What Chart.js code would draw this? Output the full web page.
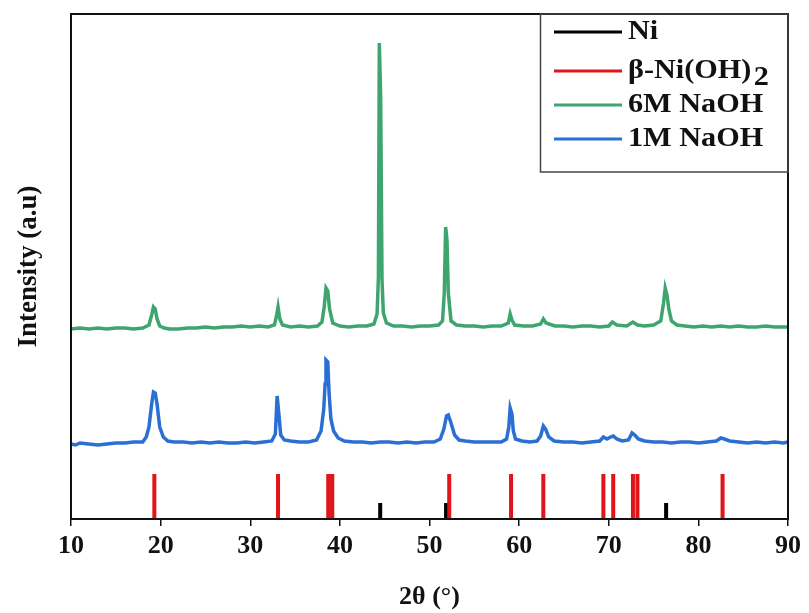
<!DOCTYPE html>
<html>
<head>
<meta charset="utf-8">
<script src="https://cdn.jsdelivr.net/npm/chart.js@4.4.1/dist/chart.umd.min.js"></script>
<style>
  html, body { margin: 0; padding: 0; background: #fff; }
  #wrap { width: 809px; height: 613px; position: relative; }
</style>
</head>
<body>
<div id="wrap"><canvas id="xrd"></canvas></div>
<script>
// reference lines (2theta positions) and their drawn heights
var niPeaks = [44.5, 51.85, 76.4];
var niHeight = 16;
var nioh2Peaks = [19.3, 33.1, 38.7, 39.15, 52.2, 59.1, 62.7, 69.4, 70.5, 72.7, 73.2, 82.7];
var nioh2Height = 45;

// measured patterns, [2theta, intensity] (offset for stacking)
var pattern6M = [
  [10,190],[11,191],[12,190],[13,191],[14,190],[15,191],[16,191],[17,190],[18,191],
  [18.7,194],[19.0,204],[19.2,212],[19.4,210],[19.6,200],[19.9,193],[20.4,191],
  [21,190],[22,190],[23,191],[24,191],[25,192],[26,191],[27,192],[28,192],[29,193],
  [30,192],[31,193],[32,192],[32.7,194],[32.95,204],[33.1,212],[33.3,200],[33.6,194],
  [34.5,192],[35.5,193],[36.5,192],[37.5,193],[38.0,197],[38.25,212],[38.45,231],
  [38.65,228],[38.85,210],[39.2,196],[40,193],[41,192],[42,193],[43,193],[43.8,195],
  [44.15,205],[44.3,242],[44.4,476],[44.55,422],[44.7,240],[44.85,206],[45.2,196],
  [46,193],[47,193],[48,192],[49,193],[50,193],[51,194],[51.45,198],[51.65,226],
  [51.8,292],[51.95,279],[52.1,226],[52.4,198],[53,194],[54,193],[55,193],[56,192],
  [57,193],[58,193],[58.8,196],[59.0,205],[59.2,199],[59.5,194],[60.5,193],[61.5,193],
  [62.4,195],[62.7,200],[63.0,196],[64,193],[65,193],[66,192],[67,193],[68,193],
  [69,192],[70,193],[70.4,197],[70.9,194],[72,193],[72.7,197],[73.2,194],[74,193],
  [75,194],[75.8,198],[76.1,215],[76.3,231],[76.5,224],[76.7,210],[77.0,198],[77.6,194],
  [78.5,193],[79.5,192],[80.5,193],[81.5,192],[82.5,193],[83.5,192],[84.5,193],
  [85.5,192],[86.5,192],[87.5,193],[88.5,192],[89.5,192],[90,192]
];
var pattern1M = [
  [10,75],[10.5,74],[11,76],[12,75],[13,74],[14,75],[15,76],[16,76],[17,77],[18,77],
  [18.4,82],[18.7,92],[19.0,115],[19.2,127],[19.4,126],[19.6,115],[19.9,92],[20.3,82],
  [20.8,78],[21.5,77],[22.5,77],[23.5,76],[24.5,77],[25.5,76],[26.5,77],[27.5,76],
  [28.5,76],[29.5,77],[30.5,76],[31.5,77],[32.4,78],[32.8,85],[33.0,123],[33.2,104],
  [33.4,84],[33.8,79],[34.5,78],[35.5,77],[36.5,77],[37.4,79],[37.9,88],[38.2,110],
  [38.35,135],[38.45,159],[38.65,157],[38.8,125],[39.0,100],[39.3,88],[39.8,81],
  [40.5,78],[41.5,77],[42.5,77],[43.5,76],[44.5,77],[45.5,77],[46.5,76],[47.5,77],
  [48.5,76],[49.5,77],[50.5,77],[51.2,80],[51.6,90],[51.9,103],[52.1,104],[52.4,96],
  [52.8,84],[53.3,79],[54,78],[55,77],[56,77],[57,77],[58,77],[58.6,80],[58.85,92],
  [59.0,111],[59.2,105],[59.35,88],[59.6,80],[60.3,78],[61.2,77],[62.0,78],[62.4,83],
  [62.7,93],[62.95,90],[63.3,82],[63.9,78],[65,77],[66,77],[67,76],[68,77],[69,78],
  [69.4,82],[69.8,80],[70.2,82],[70.5,83],[70.9,80],[71.5,78],[72.2,79],[72.6,86],
  [72.9,84],[73.3,80],[74,78],[75,77],[76,77],[77,76],[78,77],[79,77],[80,76],[81,77],
  [82.0,78],[82.5,81],[82.9,80],[83.5,78],[84.5,77],[85.5,76],[86.5,77],[87.5,76],
  [88.5,77],[89.5,76],[90,77]
];
var xTicks = [10, 20, 30, 40, 50, 60, 70, 80, 90];

var serif = '"Liberation Serif", "Times New Roman", serif';

function toPoints(pairs) {
  return pairs.map(function(p) { return {x: p[0], y: p[1]}; });
}

// each stick goes 0 -> height, then a null breaks the line
function sticks(positions, h) {
  var out = [];
  positions.forEach(function(p) {
    out.push({x: p, y: 0}, {x: p, y: h}, {x: p, y: null});
  });
  return out;
}

var series = [
  {label: 'Ni', color: '#000000'},
  {label: 'β-Ni(OH)', sub: '2', color: '#e0141b'},
  {label: '6M NaOH', color: '#3fa56e'},
  {label: '1M NaOH', color: '#2a6fd4'}
];

// frame around the plot plus the boxed legend in the upper right
var framePlugin = {
  id: 'frame',
  afterDraw: function(chart) {
    var a = chart.chartArea, ctx = chart.ctx;
    ctx.save();
    ctx.strokeStyle = '#111';
    ctx.lineWidth = 2;
    ctx.strokeRect(a.left, a.top, a.right - a.left, a.bottom - a.top);

    ctx.lineWidth = 1.5;
    ctx.strokeStyle = '#444';
    ctx.strokeRect(540.5, a.top, a.right - 540.5, 158);

    var rows = [32, 71, 105, 139];
    ctx.font = 'bold 27px ' + serif;
    ctx.textBaseline = 'middle';
    series.forEach(function(s, i) {
      var y = rows[i];
      ctx.strokeStyle = s.color;
      ctx.lineWidth = 3;
      ctx.beginPath();
      ctx.moveTo(554, y);
      ctx.lineTo(622, y);
      ctx.stroke();
      ctx.fillStyle = '#111';
      // glyphs in the legend run a little wide
      ctx.save();
      ctx.translate(628, y);
      ctx.scale(1.12, 1);
      ctx.fillText(s.label, 0, 0);
      if (s.sub) {
        var w = ctx.measureText(s.label).width;
        ctx.fillText(s.sub, w + 2, 7);
      }
      ctx.restore();
    });
    ctx.restore();
  }
};

var ctx = document.getElementById('xrd').getContext('2d');
new Chart(ctx, {
  type: 'line',
  data: {
    datasets: [
      {label: '1M NaOH', data: toPoints(pattern1M), borderColor: series[3].color, borderWidth: 3.5},
      {label: '6M NaOH', data: toPoints(pattern6M), borderColor: series[2].color, borderWidth: 3.5},
      {label: 'β-Ni(OH)2', data: sticks(nioh2Peaks, nioh2Height), borderColor: series[1].color, borderWidth: 4},
      {label: 'Ni', data: sticks(niPeaks, niHeight), borderColor: series[0].color, borderWidth: 4}
    ]
  },
  options: {
    responsive: true,
    maintainAspectRatio: false,
    animation: false,
    spanGaps: false,
    elements: {
      point: {radius: 0},
      line: {tension: 0, fill: false, borderCapStyle: 'butt'}
    },
    layout: {padding: {top: 14, right: 21, left: 0, bottom: 0}},
    plugins: {
      legend: {display: false},
      tooltip: {enabled: false}
    },
    scales: {
      x: {
        type: 'linear',
        min: 10,
        max: 90,
        afterBuildTicks: function(s) { s.ticks = xTicks.map(function(v) { return {value: v}; }); },
        afterFit: function(s) { s.height = 94; },
        grid: {display: true, drawOnChartArea: false, drawTicks: true, tickLength: 7, color: '#111', lineWidth: 1.5},
        border: {display: true, color: '#111', width: 2},
        ticks: {color: '#111', padding: 5, maxRotation: 0, font: {family: serif, size: 26, weight: 'bold'}},
        title: {
          display: true,
          text: '2θ (°)',
          color: '#111',
          padding: {top: 0, bottom: 0},
          font: {family: serif, size: 26, weight: 'bold'}
        }
      },
      y: {
        min: 0,
        max: 505,
        afterFit: function(s) { s.width = 71; },
        grid: {display: false},
        border: {display: true, color: '#111', width: 2},
        ticks: {display: false},
        title: {
          display: true,
          text: 'Intensity (a.u)',
          color: '#111',
          padding: {top: 13, bottom: 0},
          font: {family: serif, size: 27, weight: 'bold'}
        }
      }
    }
  },
  plugins: [framePlugin]
});
</script>
</body>
</html>
